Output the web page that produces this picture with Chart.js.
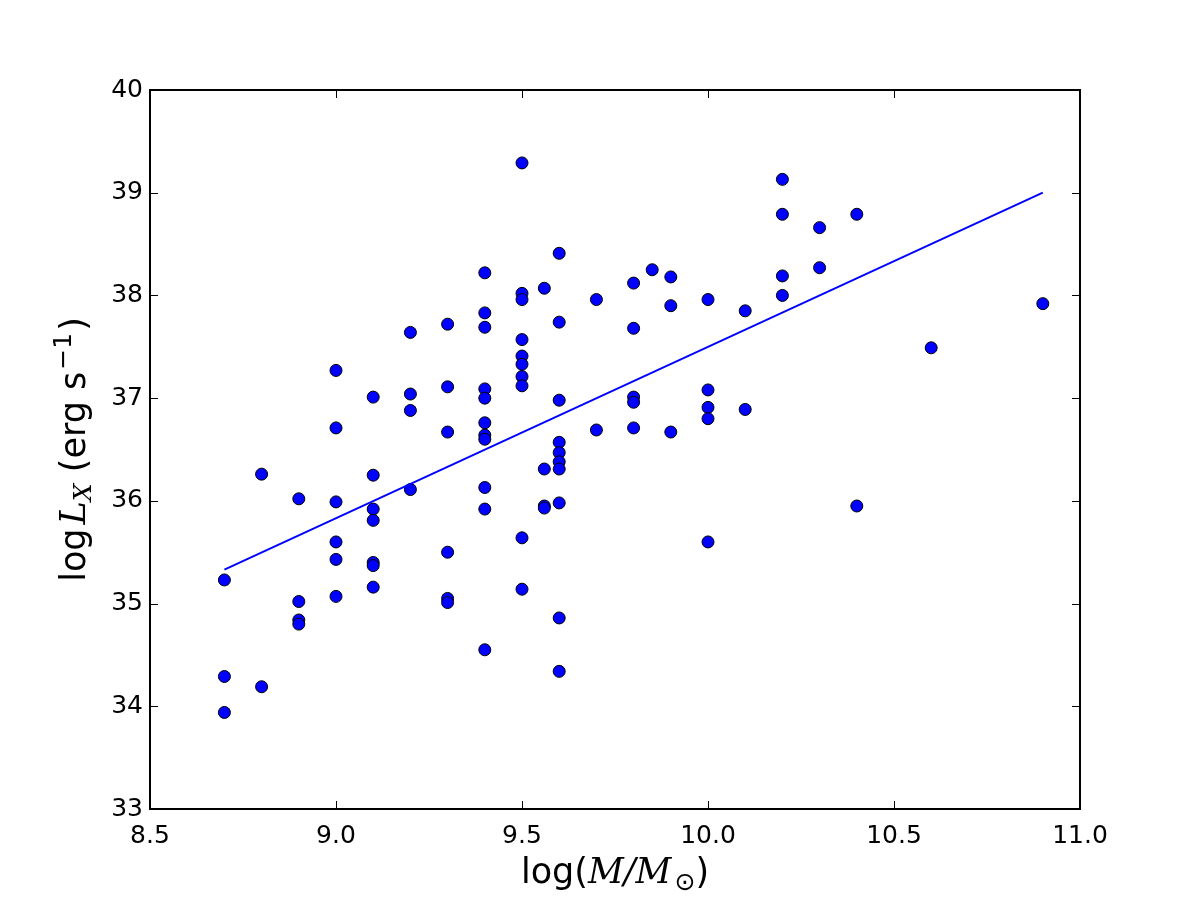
<!DOCTYPE html>
<html>
<head>
<meta charset="utf-8">
<script src="https://cdn.jsdelivr.net/npm/chart.js@4.4.1/dist/chart.umd.min.js"></script>
<style>
  html, body { margin: 0; padding: 0; background: #ffffff; }
  #wrap { width: 1200px; height: 900px; position: relative; }
</style>
</head>
<body>
<div id="wrap"><canvas id="c" width="1200" height="900"></canvas></div>
<script>
// ---- data ----
const massX = [
  8.7, 8.7, 8.7,
  8.8, 8.8,
  8.9, 8.9, 8.9, 8.9,
  9.0, 9.0, 9.0, 9.0, 9.0, 9.0,
  9.1, 9.1, 9.1, 9.1, 9.1, 9.1, 9.1,
  9.2, 9.2, 9.2, 9.2,
  9.3, 9.3, 9.3, 9.3, 9.3, 9.3,
  9.4, 9.4, 9.4, 9.4, 9.4, 9.4, 9.4, 9.4, 9.4, 9.4, 9.4,
  9.5, 9.5, 9.5, 9.5, 9.5, 9.5, 9.5, 9.5, 9.5, 9.5,
  9.56, 9.56, 9.56, 9.56,
  9.6, 9.6, 9.6, 9.6, 9.6, 9.6, 9.6, 9.6, 9.6, 9.6,
  9.7, 9.7,
  9.8, 9.8, 9.8, 9.8, 9.8,
  9.85,
  9.9, 9.9, 9.9,
  10.0, 10.0, 10.0, 10.0, 10.0,
  10.1, 10.1,
  10.2, 10.2, 10.2, 10.2,
  10.3, 10.3,
  10.4, 10.4,
  10.6,
  10.9
];
const logLx = [
  35.23, 34.29, 33.94,
  36.26, 34.19,
  36.02, 35.02, 34.84, 34.80,
  37.27, 36.71, 35.99, 35.60, 35.43, 35.07,
  37.01, 36.25, 35.92, 35.81, 35.40, 35.37, 35.16,
  37.64, 37.04, 36.88, 36.11,
  37.72, 37.11, 36.67, 35.50, 35.05, 35.01,
  38.22, 37.83, 37.69, 37.09, 37.00, 36.76, 36.64, 36.60, 36.13, 35.92, 34.55,
  39.29, 38.02, 37.96, 37.57, 37.41, 37.33, 37.21, 37.12, 35.64, 35.14,
  38.07, 36.31, 35.95, 35.93,
  38.41, 37.74, 36.98, 36.57, 36.47, 36.38, 36.31, 35.98, 34.86, 34.34,
  37.96, 36.69,
  38.12, 37.68, 37.01, 36.96, 36.71,
  38.25,
  38.18, 37.90, 36.67,
  37.96, 37.08, 36.91, 36.80, 35.60,
  37.85, 36.89,
  39.13, 38.79, 38.19, 38.00,
  38.66, 38.27,
  38.79, 35.95,
  37.49,
  37.92
];
const fitX = [8.7, 10.9];
const fitY = [35.33, 39.00];
const xTicks = [8.5, 9.0, 9.5, 10.0, 10.5, 11.0];
const yTicks = [33, 34, 35, 36, 37, 38, 39, 40];
const xLabelParts = ["log(", "M/M", "\u2299", ")"];
const yLabelParts = ["log", "L", "X", " (erg s", "\u22121", ")"];

// ---- build ----
const scatterPts = massX.map((x, i) => ({ x: x, y: logLx[i] }));
const fitPts = fitX.map((x, i) => ({ x: x, y: fitY[i] }));

const SANS = '"DejaVu Sans", sans-serif';
const SERIF = '"DejaVu Serif", serif';

function drawRich(ctx, segs, x, y, align) {
  // segs: [{t, font, dy}]
  let total = 0;
  segs.forEach(s => { ctx.font = s.font; s.w = ctx.measureText(s.t).width; total += s.w + (s.gap || 0); });
  let cx = align === 'center' ? x - total / 2 : x;
  ctx.textBaseline = 'alphabetic';
  ctx.textAlign = 'left';
  segs.forEach(s => {
    ctx.font = s.font;
    ctx.fillText(s.t, cx, y + (s.dy || 0));
    cx += s.w + (s.gap || 0);
  });
}

const framePlugin = {
  id: 'frame',
  afterDatasetsDraw(chart) {
    const { ctx, chartArea: a, scales } = chart;
    ctx.save();
    // inward tick marks on all four sides
    ctx.strokeStyle = '#000';
    ctx.lineWidth = 1;
    const tl = 8;
    xTicks.forEach(v => {
      const px = Math.round(scales.x.getPixelForValue(v)) + 0.5;
      ctx.beginPath();
      ctx.moveTo(px, a.bottom); ctx.lineTo(px, a.bottom - tl);
      ctx.moveTo(px, a.top); ctx.lineTo(px, a.top + tl);
      ctx.stroke();
    });
    yTicks.forEach(v => {
      const py = Math.round(scales.y.getPixelForValue(v)) + 0.5;
      ctx.beginPath();
      ctx.moveTo(a.left, py); ctx.lineTo(a.left + tl, py);
      ctx.moveTo(a.right, py); ctx.lineTo(a.right - tl, py);
      ctx.stroke();
    });
    // frame
    ctx.lineWidth = 2;
    ctx.strokeRect(a.left, a.top, a.right - a.left, a.bottom - a.top);
    ctx.restore();
  },
  afterDraw(chart) {
    const { ctx, chartArea: a } = chart;
    ctx.save();
    ctx.fillStyle = '#000';
    const big = 35, small = 25;
    // x axis label
    drawRich(ctx, [
      { t: xLabelParts[0], font: `${big}px ${SANS}` },
      { t: xLabelParts[1], font: `italic ${big}px ${SERIF}`, gap: 3 },
      { t: xLabelParts[2], font: `${small}px ${SANS}`, dy: 7 },
      { t: xLabelParts[3], font: `${big}px ${SANS}` }
    ], (a.left + a.right) / 2, 883, 'center');
    // y axis label (rotated)
    ctx.translate(85, (a.top + a.bottom) / 2);
    ctx.rotate(-Math.PI / 2);
    drawRich(ctx, [
      { t: yLabelParts[0], font: `${big}px ${SANS}`, gap: 4 },
      { t: yLabelParts[1], font: `italic ${big}px ${SERIF}` },
      { t: yLabelParts[2], font: `italic ${small}px ${SERIF}`, dy: 6 },
      { t: yLabelParts[3], font: `${big}px ${SANS}`, gap: 2 },
      { t: yLabelParts[4], font: `${small}px ${SANS}`, dy: -14, gap: 2 },
      { t: yLabelParts[5], font: `${big}px ${SANS}` }
    ], 0, 0, 'center');
    ctx.restore();
  }
};

new Chart(document.getElementById('c'), {
  type: 'scatter',
  data: {
    datasets: [
      {
        type: 'line',
        label: 'fit',
        data: fitPts,
        borderColor: '#0000ff',
        borderWidth: 2,
        pointRadius: 0,
        fill: false,
        order: 0
      },
      {
        label: 'galaxies',
        data: scatterPts,
        backgroundColor: '#0000ff',
        borderColor: '#000000',
        borderWidth: 1,
        pointRadius: 6,
        pointHoverRadius: 6,
        order: 1
      }
    ]
  },
  options: {
    responsive: false,
    animation: false,
    devicePixelRatio: 1,
    layout: { padding: { left: 0, top: 90, right: 120, bottom: 0 } },
    plugins: { legend: { display: false }, tooltip: { enabled: false } },
    scales: {
      x: {
        type: 'linear',
        min: 8.5, max: 11.0,
        afterBuildTicks: s => { s.ticks = xTicks.map(v => ({ value: v })); },
        afterFit: s => { s.height = 91; },
        grid: { display: false, drawTicks: false },
        border: { display: false },
        ticks: {
          color: '#000',
          padding: 12,
          maxRotation: 0,
          font: { family: 'DejaVu Sans', size: 25 },
          callback: v => Number(v).toFixed(1)
        }
      },
      y: {
        type: 'linear',
        min: 33, max: 40,
        afterBuildTicks: s => { s.ticks = yTicks.map(v => ({ value: v })); },
        afterFit: s => { s.width = 150; },
        grid: { display: false, drawTicks: false },
        border: { display: false },
        ticks: {
          color: '#000',
          padding: 7,
          font: { family: 'DejaVu Sans', size: 25 },
          callback: v => String(v)
        }
      }
    }
  },
  plugins: [framePlugin]
});
</script>
</body>
</html>
